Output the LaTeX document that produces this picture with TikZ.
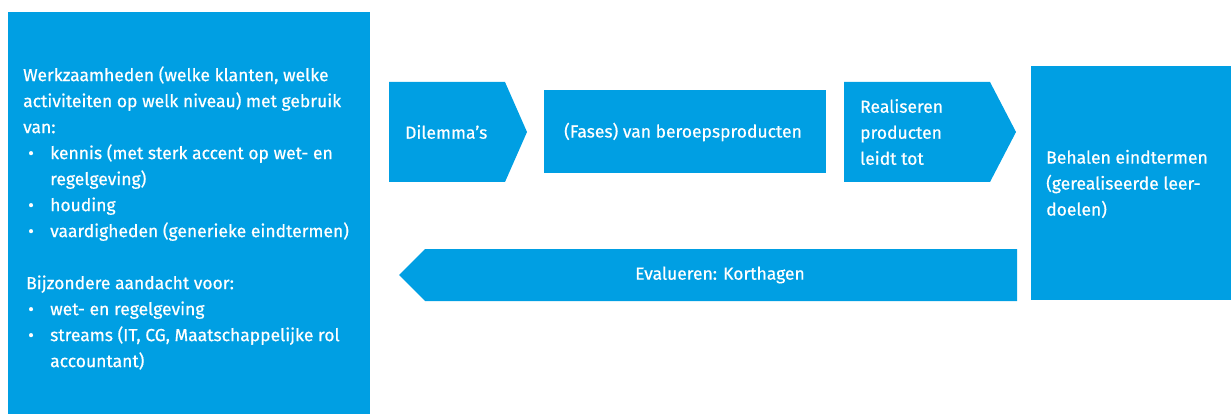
\documentclass[tikz,border=0pt]{standalone}
\usepackage{fontspec}
\setmainfont{Fira Sans}[FakeBold=0.5]
\definecolor{stapblauw}{HTML}{009FE3}
\newcommand{\bolletje}{\makebox[27pt][l]{\hspace*{5pt}\textbullet}}
\newcommand{\inspring}{\hspace*{27pt}}
\begin{document}
\begin{tikzpicture}[x=1pt,y=-1pt,
    blok/.style={fill=stapblauw},
    tekst/.style={text=white,inner sep=0pt,align=left,font=\fontsize{17.5}{26}\selectfont}]
    \useasboundingbox (0,0) rectangle (1231,414);
    % vakken
    \fill[blok] (8,12) rectangle (370,414);
    \fill[blok] (389,82) -- (505,82) -- (527,132) -- (505,182) -- (389,182) -- cycle;
    \fill[blok] (544,90) rectangle (826,173);
    \fill[blok] (844,82) -- (990,82) -- (1016,132) -- (990,182) -- (844,182) -- cycle;
    \fill[blok] (1031,66) rectangle (1231,300);
    \fill[blok] (425,249) -- (1017,249) -- (1017,301) -- (425,301) -- (399,275) -- cycle;
    % teksten
    \node[tekst,anchor=west] (werk) at (23,218) {Werkzaamheden (welke klanten, welke\\
        activiteiten op welk niveau) met gebruik\\
        van:\\
        \bolletje kennis (met sterk accent op wet- en\\
        \inspring regelgeving)\\
        \bolletje houding\\
        \bolletje vaardigheden (generieke eindtermen)\\[26pt]
        \hspace*{3pt}Bijzondere aandacht voor:\\
        \bolletje wet- en regelgeving\\
        \bolletje streams (IT, CG, Maatschappelijke rol\\
        \inspring accountant)};
    \node[tekst,anchor=west] (dilemma) at (405,132) {Dilemma’s};
    \node[tekst] (fases) at (683,132) {(Fases) van beroepsproducten};
    \node[tekst,anchor=west] (realiseren) at (860,132) {Realiseren\\producten\\leidt tot};
    \node[tekst,anchor=west] (behalen) at (1046,184) {Behalen eindtermen\\(gerealiseerde leer-\\doelen)};
    \node[tekst] (evalueren) at (720,275) {Evalueren: Korthagen};
\end{tikzpicture}
\end{document}
